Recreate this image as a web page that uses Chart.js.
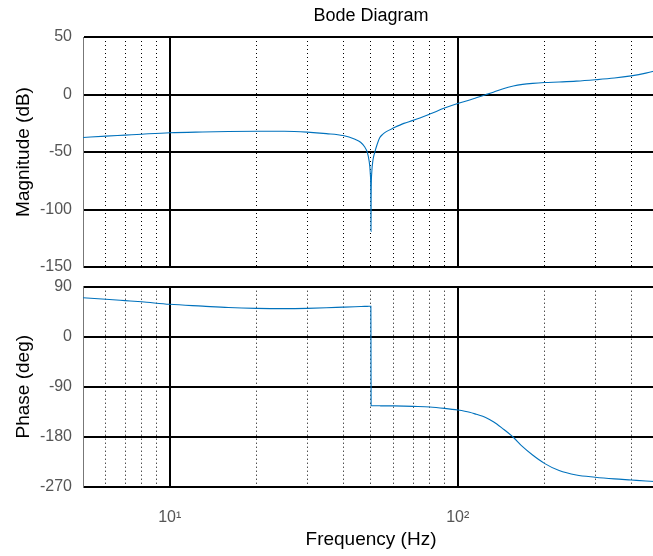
<!DOCTYPE html>
<html>
<head>
<meta charset="utf-8">
<script src="https://cdn.jsdelivr.net/npm/chart.js@4/dist/chart.umd.min.js"></script>
<style>
  html, body { margin: 0; padding: 0; background: #fff; }
  #wrap { position: relative; width: 653px; height: 556px; overflow: hidden; }
  canvas { position: absolute; left: 0; }
  #mag { top: 0; }
  #phase { top: 270px; }
</style>
</head>
<body>
<div id="wrap">
  <canvas id="mag" width="661" height="285"></canvas>
  <canvas id="phase" width="661" height="286"></canvas>
</div>
<script>
// frequency samples (Hz)
const freqHz = [5, 6, 7, 8, 10, 13, 16, 20, 25, 30, 35, 40, 44, 46, 47.5, 48.5, 49.2, 49.7, 49.95, 50, 50.05,
  50.3, 50.8, 51.5, 52.5, 53.6, 55, 56.5, 60, 65, 70, 80, 90, 100, 110, 116, 125, 133, 143, 156, 168, 182,
  200, 225, 258, 300, 350, 400, 450, 500];
const magDb = [-37.4, -36.2, -35.3, -34.5, -33.3, -32.6, -32.2, -32.0, -32.0, -32.7, -34.0, -35.7, -39, -41.5,
  -45.5, -50, -57, -68, -90, -119, -90, -68, -57, -50.5, -43.5, -37.7, -34.5, -32.3, -29.0, -25.1, -22.5, -17.0,
  -11.8, -7.8, -4.8, -2.8, -0.2, 2, 4.8, 7.4, 8.8, 9.7, 10.4, 10.9, 11.6, 12.8, 14.3, 16.2, 18.6, 21.5];
const phaseDeg = [70.2, 67.5, 65, 62.8, 58.3, 55, 52.5, 51, 50.5, 51, 52, 53.2, 54, 54.3, 54.5, 54.6, 54.7,
  54.8, 54.8, -35, -124, -124.2, -124.2, -124.3, -124.3, -124.4, -124.5, -124.5, -124.6, -124.9, -125.4,
  -126.5, -129, -132, -136, -139.7, -145.5, -153, -165, -181, -198, -213, -228, -241, -249, -253, -256,
  -258, -259.8, -261];

const freqRange = [5, 500];
const majorFreqTicks = [10, 100];
const majorFreqLabels = ['10¹', '10²'];
const minorFreqTicks = [6, 7, 8, 9, 20, 30, 40, 50, 60, 70, 80, 90, 200, 300, 400];
const magTicks = [-150, -100, -50, 0, 50];
const phaseTicks = [-270, -180, -90, 0, 90];

Chart.defaults.font.family = '"Liberation Sans", Arial, Helvetica, sans-serif';

function bodeChart(id, values, yTicks, yTitle, bottomAxis, extra) {
  const ctx = document.getElementById(id).getContext('2d');
  return new Chart(ctx, {
    type: 'scatter',
    data: {
      datasets: [{
        data: freqHz.map((f, i) => ({ x: f, y: values[i] })),
        showLine: true,
        borderColor: '#0072BD',
        borderWidth: 1.1,
        pointRadius: 0,
        cubicInterpolationMode: 'monotone',
        xAxisID: 'x',
        yAxisID: 'y'
      }]
    },
    options: {
      responsive: false,
      animation: false,
      layout: { padding: extra.padding },
      plugins: {
        legend: { display: false },
        tooltip: { enabled: false },
        title: extra.title || { display: false }
      },
      scales: {
        x: {
          type: 'logarithmic',
          position: 'bottom',
          min: freqRange[0],
          max: freqRange[1],
          afterBuildTicks: s => { s.ticks = majorFreqTicks.map(v => ({ value: v })); },
          afterFit: s => { s.height = bottomAxis.height; s.paddingLeft = 0; s.paddingRight = 0; },
          ticks: {
            display: bottomAxis.labels,
            autoSkip: false,
            maxRotation: 0,
            color: '#555',
            font: { size: 16 },
            padding: 21.7,
            callback: (v, i) => majorFreqLabels[i]
          },
          grid: { color: '#000', lineWidth: 2, drawTicks: false },
          border: { display: false },
          title: bottomAxis.title
        },
        xMinor: {
          axis: 'x',
          type: 'logarithmic',
          position: 'bottom',
          min: freqRange[0],
          max: freqRange[1],
          afterBuildTicks: s => { s.ticks = minorFreqTicks.map(v => ({ value: v })); },
          afterFit: s => { s.height = 0; s.paddingLeft = 0; s.paddingRight = 0; },
          ticks: { display: false },
          grid: { color: '#000', lineWidth: 1, drawTicks: false },
          border: { display: false, dash: [1, 3] }
        },
        y: {
          type: 'linear',
          min: yTicks[0],
          max: yTicks[yTicks.length - 1],
          afterBuildTicks: s => { s.ticks = yTicks.map(v => ({ value: v })); },
          afterFit: s => { s.width = 83; s.paddingTop = 0; s.paddingBottom = 0; },
          ticks: { color: '#555', font: { size: 16 }, padding: 11 },
          grid: { color: '#000', lineWidth: 2, drawTicks: false },
          border: { display: true, color: '#777', width: 1 },
          title: {
            display: true,
            text: yTitle,
            color: '#000',
            font: { size: 19 },
            padding: { top: 12.6, bottom: 0 }
          }
        }
      }
    }
  });
}

bodeChart('mag', magDb, magTicks, 'Magnitude (dB)',
  { height: 0, labels: false, title: { display: false } },
  {
    padding: { top: 0, left: 0, right: 2, bottom: 18 },
    title: {
      display: true,
      text: 'Bode Diagram',
      fullSize: false,
      color: '#000',
      font: { size: 18, weight: 'normal' },
      padding: { top: 5.2, bottom: 10.2 }
    }
  });

bodeChart('phase', phaseDeg, phaseTicks, 'Phase (deg)',
  {
    height: 69.3,
    labels: true,
    title: {
      display: true,
      text: 'Frequency (Hz)',
      color: '#000',
      font: { size: 19 },
      padding: { top: 0, bottom: 4.6 }
    }
  },
  { padding: { top: 16.7, left: 0, right: 2, bottom: 0 } });
</script>
</body>
</html>
